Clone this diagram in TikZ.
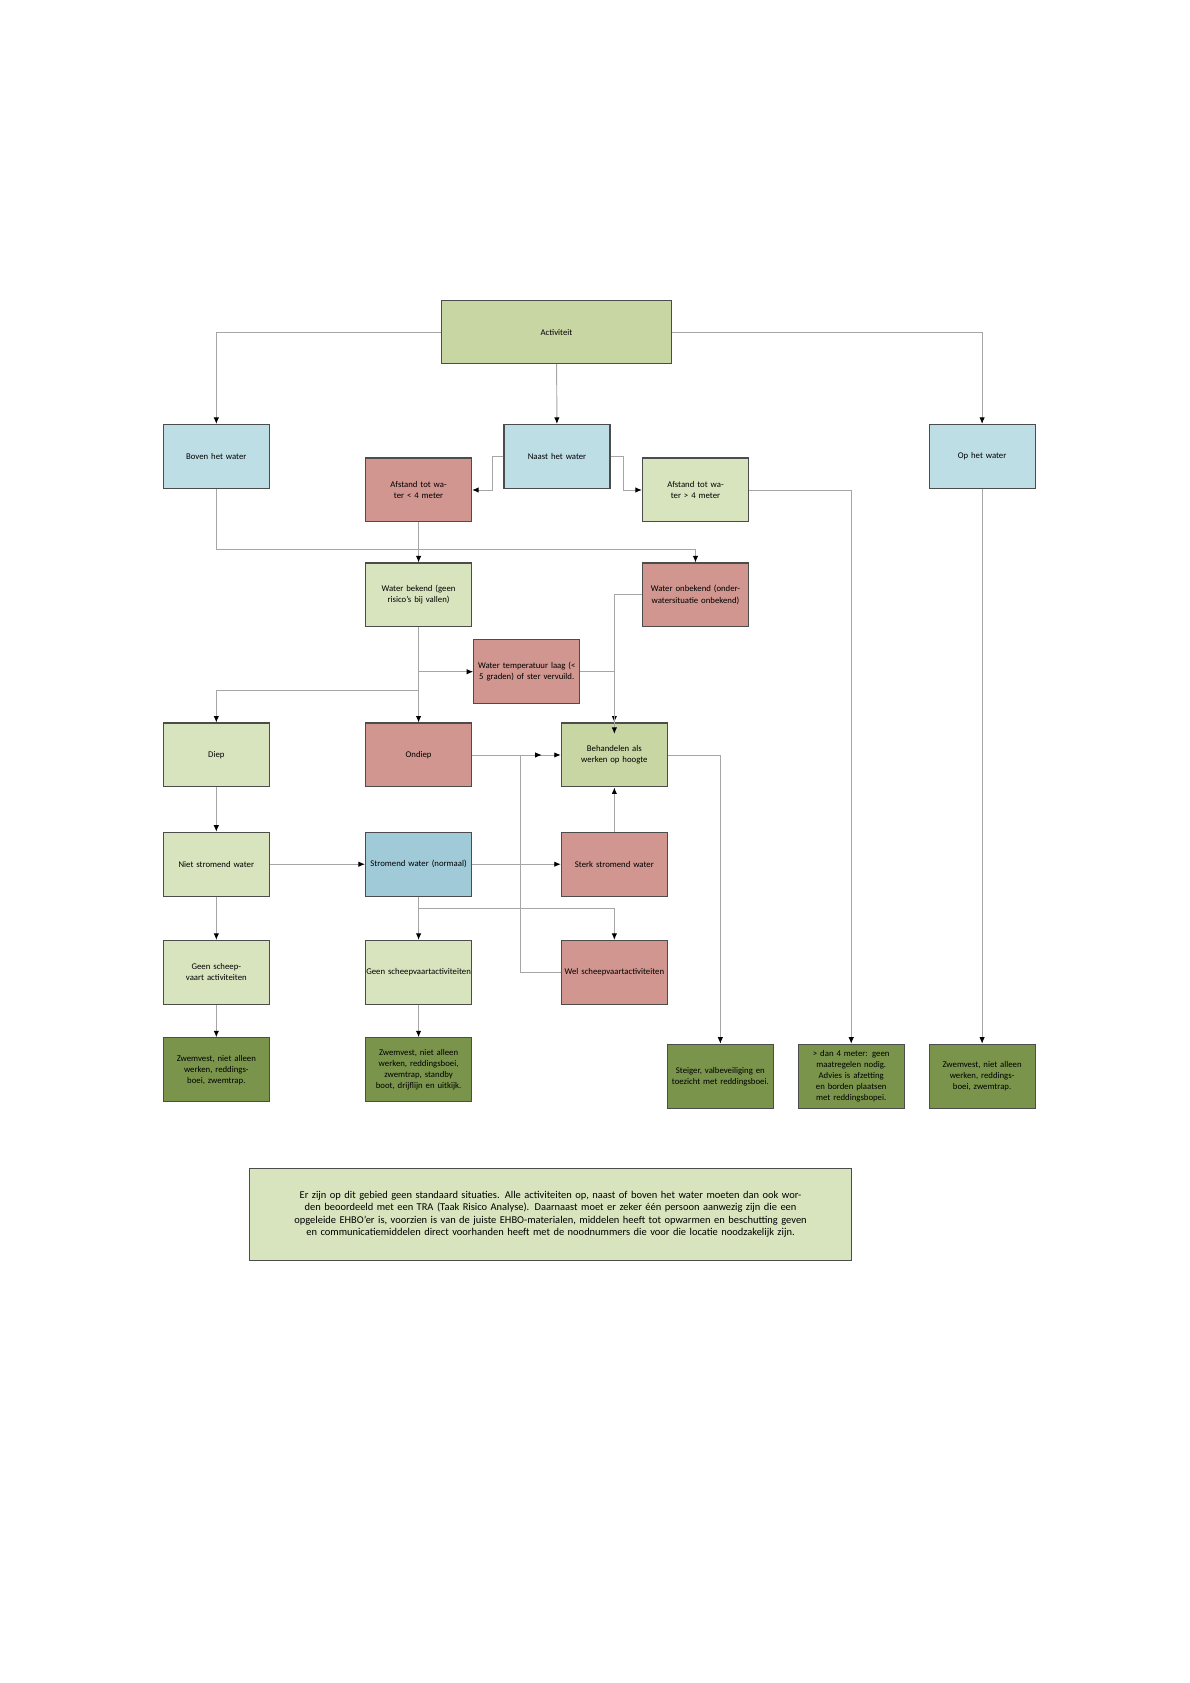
\documentclass[tikz,border=0pt]{standalone}
\usepackage{fontspec}
\setmainfont{Carlito}
\usetikzlibrary{arrows.meta}
\definecolor{lgreen}{RGB}{216,228,190}
\definecolor{mgreen}{RGB}{200,214,164}
\definecolor{dgreen}{RGB}{122,148,76}
\definecolor{lblue}{RGB}{190,222,230}
\definecolor{mblue}{RGB}{160,202,216}
\definecolor{lred}{RGB}{208,150,143}
\tikzset{
  box/.style={draw=black!70,line width=0.3pt,minimum width=0.98cm,minimum height=0.59cm,
    text width=0.92cm,align=center,inner sep=0pt,font=\fontsize{2.3}{2.9}\selectfont},
  link/.style={draw=black!35,line width=0.25pt,-{Latex[length=0.6mm,width=0.5mm,black]}},
  line/.style={draw=black!35,line width=0.25pt}
}
\begin{document}
\begin{tikzpicture}[x=0.01cm,y=-0.01cm]
  \useasboundingbox (0,0) rectangle (1100,1556);
  \node (act)[box,fill=mgreen,minimum width=2.13cm,minimum height=0.58cm] at (514.5,307) {Activiteit};
  \node (boven)[box,fill=lblue] at (200,422) {Boven het water};
  \node (naast)[box,fill=lblue] at (515,422) {Naast het water};
  \node (op)[box,fill=lblue] at (908,422) {Op het water};
  \node (kort)[box,fill=lred] at (387,453) {Afstand tot water < 4 meter};
  \node (ver)[box,fill=lgreen] at (643,453) {Afstand tot water > 4 meter};
  \node (bekend)[box,fill=lgreen] at (387,550) {Water bekend (geen risico's bij vallen)};
  \node (onbekend)[box,fill=lred] at (643,550) {Water onbekend (onderwatersituatie onbekend)};
  \node (temp)[box,fill=lred] at (487,621) {Water temperatuur laag (< 5 graden) of ster vervuild.};
  \node (diep)[box,fill=lgreen] at (200,698) {Diep};
  \node (ondiep)[box,fill=lred] at (387,698) {Ondiep};
  \node (hoogte)[box,fill=mgreen] at (568,698) {Behandelen als werken op hoogte};
  \node (niet)[box,fill=lgreen] at (200,799) {Niet stromend water};
  \node (stromend)[box,fill=mblue] at (387,799) {Stromend water (normaal)};
  \node (sterk)[box,fill=lred] at (568,799) {Sterk stromend water};
  \node (geen1)[box,fill=lgreen] at (200,899) {Geen scheepvaart activiteiten};
  \node (geen2)[box,fill=lgreen,text width=0.97cm] at (387,899) {Geen scheepvaartactiviteiten};
  \node (wel)[box,fill=lred,text width=0.97cm] at (568,899) {Wel scheepvaartactiviteiten};
  \node (zwem1)[box,fill=dgreen] at (200,989) {Zwemvest, niet alleen werken, reddingsboei, zwemtrap.};
  \node (zwem2)[box,fill=dgreen] at (387,989) {Zwemvest, niet alleen werken, reddingsboei, zwemtrap, standby boot, drijflijn en uitkijk.};
  \node (steiger)[box,fill=dgreen] at (666,995) {Steiger, valbeveiliging en toezicht met reddingsboei.};
  \node (geen)[box,fill=dgreen] at (787,995) {> dan 4 meter: geen maatregelen nodig. Advies is afzetting en borden plaatsen met reddingsbopei.};
  \node (zwem3)[box,fill=dgreen] at (908,995) {Zwemvest, niet alleen werken, reddingsboei, zwemtrap.};
  \node (note)[box,fill=lgreen,minimum width=5.56cm,minimum height=0.85cm,text width=5.3cm,
    font=\fontsize{2.75}{3.3}\selectfont] at (509,1122.5)
    {Er zijn op dit gebied geen standaard situaties. Alle activiteiten op, naast of boven het water moeten dan ook worden beoordeeld met een TRA (Taak Risico Analyse). Daarnaast moet er zeker één persoon aanwezig zijn die een opgeleide EHBO'er is, voorzien is van de juiste EHBO-materialen, middelen heeft tot opwarmen en beschutting geven en communicatiemiddelen direct voorhanden heeft met de noodnummers die voor die locatie noodzakelijk zijn.};

  \draw[link] (act.west) -| (boven);
  \draw[link] (act) -- (naast);
  \draw[link] (act.east) -| (op);
  \draw[link] (naast.west) -- ++(-10,0) |- (kort.east);
  \draw[link] (naast.east) -- ++(12,0) |- (ver.west);
  \draw[link] (ver.east) -| (geen.north);
  \draw[link] (boven.south) |- (643,508) -- (onbekend.north);
  \draw[link] (kort) -- (bekend);
  \draw[link] (bekend) -- (ondiep);
  \draw[link] (387,621) -- (temp.west);
  \draw[link] (387,638) -| (diep.north);
  \draw[link] (temp.east) -| (hoogte.north);
  \draw[link] (onbekend.west) -| ([yshift=-3]hoogte.north);
  \draw[link] (ondiep) -- (hoogte);
  \draw[link] (diep) -- (niet);
  \draw[link] (niet) -- (stromend);
  \draw[link] (stromend) -- (sterk);
  \draw[link] (sterk) -- (hoogte);
  \draw[link] (stromend) -- (geen2);
  \draw[link] (387,840) -| (wel.north);
  \draw[link] (wel.west) -| (481,698) -- ([xshift=-5]hoogte.west);
  \draw[link] (hoogte.east) -| (steiger.north);
  \draw[link] (op) -- (zwem3);
  \draw[link] (niet) -- (geen1);
  \draw[link] (geen1) -- (zwem1);
  \draw[link] (geen2) -- (zwem2);
\end{tikzpicture}
\end{document}
